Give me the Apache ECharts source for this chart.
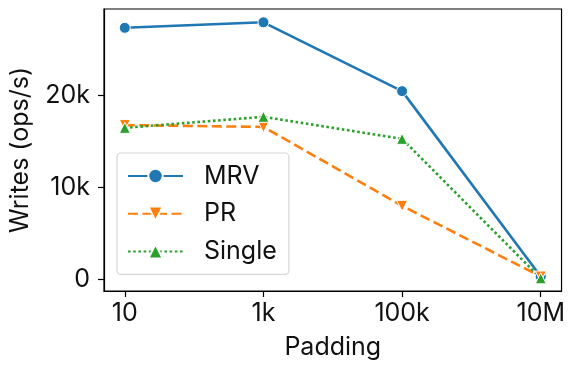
<!DOCTYPE html>
<html>
<head>
<meta charset="utf-8">
<script src="https://cdn.jsdelivr.net/npm/echarts@6/dist/echarts.min.js"></script>
<style>
  html, body { margin: 0; padding: 0; background: #fff; }
  #chart { width: 568px; height: 367px; }
</style>
</head>
<body>
<div id="chart"></div>
<script>
// Padding sizes (categorical positions on the x axis)
const paddingLabels = ['10', '1k', '100k', '10M'];
// Write throughput in ops/s per padding size
const mrvWrites = [27400, 28000, 20500, 300];
const prWrites = [16800, 16600, 8000, 300];
const singleWrites = [16500, 17700, 15300, 100];
// Y-axis tick values
const yTicks = [0, 10000, 20000];

const FONT = 'Inter';
const FS = 25;
const toPoints = arr => arr.map((v, i) => [i, v]);

const chart = echarts.init(document.getElementById('chart'), null, { renderer: 'canvas' });

const baseSeries = (name, data, color, symbol, rotate, dash) => ({
  name,
  type: 'line',
  data: toPoints(data),
  symbol,
  symbolRotate: rotate,
  symbolSize: 11,
  showSymbol: true,
  lineStyle: { color, width: 2.6, type: dash },
  itemStyle: { color, borderColor: '#fff', borderWidth: 1 },
  emphasis: { disabled: true },
  animation: false
});

chart.setOption({
  animation: false,
  grid: {
    left: 104, right: 6, top: 9, bottom: 76,
    show: true, borderColor: '#000', borderWidth: 1.2, backgroundColor: '#fff'
  },
  xAxis: {
    type: 'value',
    min: -0.15, max: 3.15,
    name: 'Padding',
    nameLocation: 'middle',
    nameGap: 44,
    nameTextStyle: { fontFamily: FONT, fontSize: FS, color: '#111', verticalAlign: 'top' },
    axisLine: { show: true, onZero: false, lineStyle: { color: '#000', width: 1.2 } },
    axisTick: { show: true, length: 6, lineStyle: { color: '#000', width: 1.2 }, customValues: [0, 1, 2, 3] },
    axisLabel: {
      fontFamily: FONT, fontSize: FS, color: '#111', margin: 10,
      customValues: [0, 1, 2, 3],
      formatter: v => paddingLabels[Math.round(v)]
    },
    splitLine: { show: false }
  },
  yAxis: {
    type: 'value',
    min: -1280, max: 29450,
    name: 'Writes (ops/s)',
    nameLocation: 'middle',
    nameGap: 71,
    nameTextStyle: { fontFamily: FONT, fontSize: FS, color: '#111' },
    axisLine: { show: true, onZero: false, lineStyle: { color: '#000', width: 1.2 } },
    axisTick: { show: true, length: 6, lineStyle: { color: '#000', width: 1.2 }, customValues: yTicks },
    axisLabel: {
      fontFamily: FONT, fontSize: FS, color: '#111', margin: 14,
      customValues: yTicks,
      formatter: v => (v === 0 ? '0' : (v / 1000) + 'k')
    },
    splitLine: { show: false }
  },
  legend: {
    left: 117, top: 153,
    orient: 'vertical',
    itemWidth: 55,
    itemHeight: 18,
    itemGap: 11.7,
    padding: [10, 12, 10, 10],
    backgroundColor: '#fff',
    borderColor: '#d6d6d6',
    borderWidth: 1.2,
    borderRadius: 4,
    textStyle: { fontFamily: FONT, fontSize: FS, color: '#111', lineHeight: 26, padding: [0, 0, 0, 16] },
    data: ['MRV', 'PR', 'Single']
  },
  series: [
    baseSeries('MRV', mrvWrites, '#1f77b4', 'circle', 0, 'solid'),
    baseSeries('PR', prWrites, '#ff7f0e', 'triangle', 180, [10, 4.5]),
    baseSeries('Single', singleWrites, '#2ca02c', 'triangle', 0, [2.6, 2.6])
  ]
});
</script>
</body>
</html>
